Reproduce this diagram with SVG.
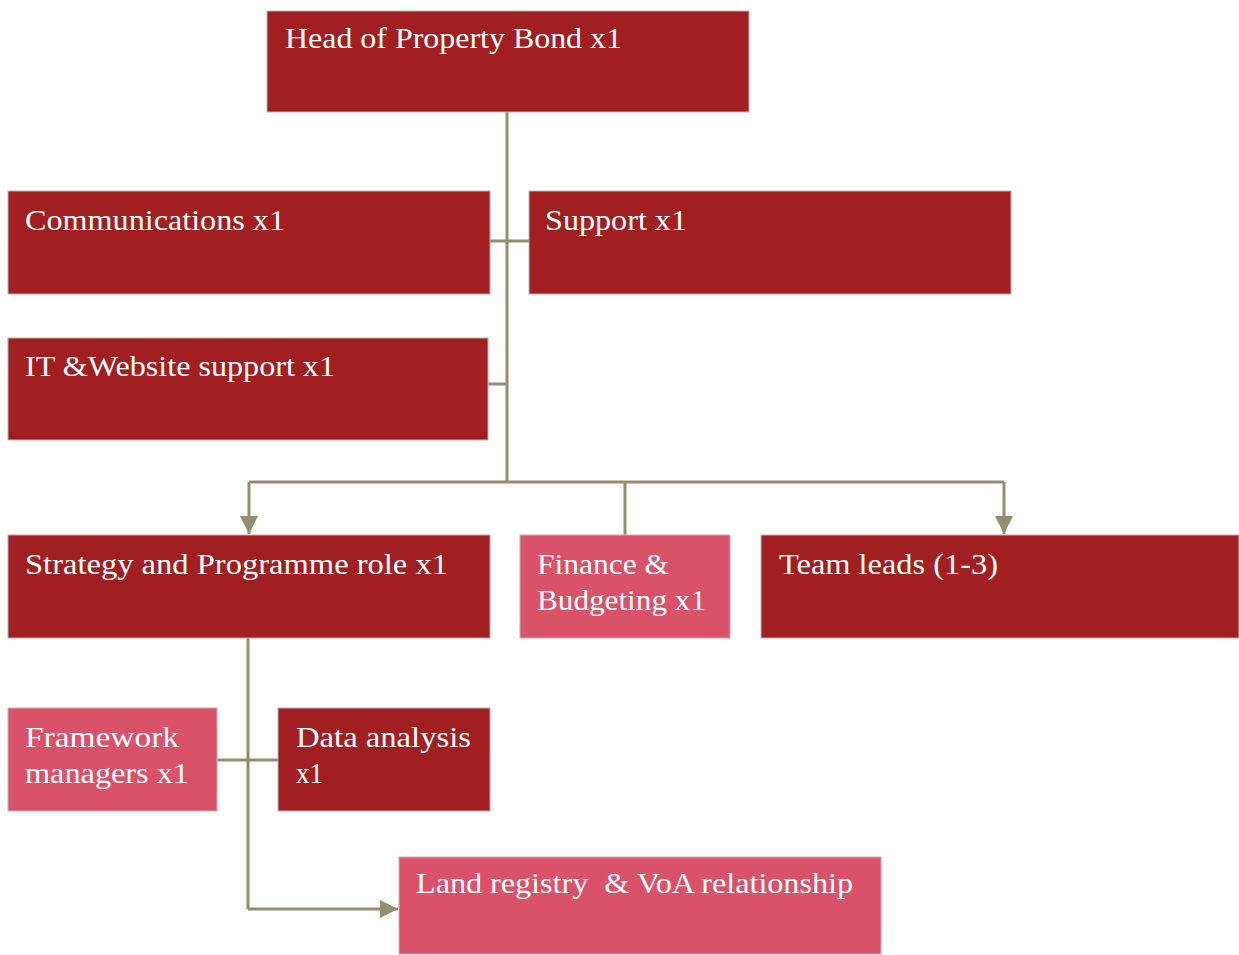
<svg xmlns="http://www.w3.org/2000/svg" width="1239" height="955" viewBox="0 0 1239 955">
  <defs>
    <marker id="arrow" viewBox="0 0 10 10" refX="10" refY="5" markerWidth="6" markerHeight="6" markerUnits="strokeWidth" orient="auto">
      <path d="M0,0 L10,5 L0,10 z" fill="#958d70"/>
    </marker>
    <style>
      .dark { fill: #a11f21; stroke: #b9b1b1; stroke-width: 1; }
      .pink { fill: #da526a; stroke: #c8b0b5; stroke-width: 1; }
      .lbl { font-family: "Liberation Serif", "DejaVu Serif", serif; font-size: 29px; fill: #ffffff; }
      .conn { fill: none; stroke: #958d70; stroke-width: 3; }
    </style>
  </defs>
  <rect width="1239" height="955" fill="#ffffff"/>

  <g id="connectors">
    <path class="conn" d="M507,112 V482"/>
    <path class="conn" d="M490,241 H529"/>
    <path class="conn" d="M488,384 H507"/>
    <path class="conn" d="M249,482 H1004"/>
    <path class="conn" d="M249,482 V534" marker-end="url(#arrow)"/>
    <path class="conn" d="M1004,482 V534" marker-end="url(#arrow)"/>
    <path class="conn" d="M625,482 V535"/>
    <path class="conn" d="M248,638 V909"/>
    <path class="conn" d="M217,760 H278"/>
    <path class="conn" d="M248,909 H398" marker-end="url(#arrow)"/>
  </g>

  <g id="head">
    <rect class="dark" x="267" y="11" width="482" height="101"/>
    <text class="lbl" x="285" y="48" textLength="337" lengthAdjust="spacingAndGlyphs">Head of Property Bond x1</text>
  </g>
  <g id="communications">
    <rect class="dark" x="8" y="191" width="482" height="103"/>
    <text class="lbl" x="25" y="230" textLength="260" lengthAdjust="spacingAndGlyphs">Communications x1</text>
  </g>
  <g id="support">
    <rect class="dark" x="529" y="191" width="482" height="103"/>
    <text class="lbl" x="545" y="230" textLength="142" lengthAdjust="spacingAndGlyphs">Support x1</text>
  </g>
  <g id="it-website">
    <rect class="dark" x="8" y="338" width="480" height="102"/>
    <text class="lbl" x="25" y="376" textLength="310" lengthAdjust="spacingAndGlyphs">IT &amp;Website support x1</text>
  </g>
  <g id="strategy">
    <rect class="dark" x="8" y="535" width="482" height="103"/>
    <text class="lbl" x="25" y="574" textLength="423" lengthAdjust="spacingAndGlyphs">Strategy and Programme role x1</text>
  </g>
  <g id="finance">
    <rect class="pink" x="520" y="535" width="210" height="103"/>
    <text class="lbl" x="537" y="574" textLength="132" lengthAdjust="spacingAndGlyphs">Finance &amp;</text>
    <text class="lbl" x="537" y="610" textLength="169" lengthAdjust="spacingAndGlyphs">Budgeting x1</text>
  </g>
  <g id="team-leads">
    <rect class="dark" x="761" y="535" width="478" height="103"/>
    <text class="lbl" x="779" y="574" textLength="219" lengthAdjust="spacingAndGlyphs">Team leads (1-3)</text>
  </g>
  <g id="framework">
    <rect class="pink" x="8" y="708" width="209" height="103"/>
    <text class="lbl" x="25" y="747" textLength="154" lengthAdjust="spacingAndGlyphs">Framework</text>
    <text class="lbl" x="25" y="783" textLength="164" lengthAdjust="spacingAndGlyphs">managers x1</text>
  </g>
  <g id="data-analysis">
    <rect class="dark" x="278" y="708" width="212" height="103"/>
    <text class="lbl" x="296" y="747" textLength="175" lengthAdjust="spacingAndGlyphs">Data analysis</text>
    <text class="lbl" x="296" y="783" textLength="27" lengthAdjust="spacingAndGlyphs">x1</text>
  </g>
  <g id="land-registry">
    <rect class="pink" x="399" y="857" width="482" height="97"/>
    <text class="lbl" x="416" y="893" textLength="437" lengthAdjust="spacingAndGlyphs" xml:space="preserve">Land registry  &amp; VoA relationship</text>
  </g>
</svg>
